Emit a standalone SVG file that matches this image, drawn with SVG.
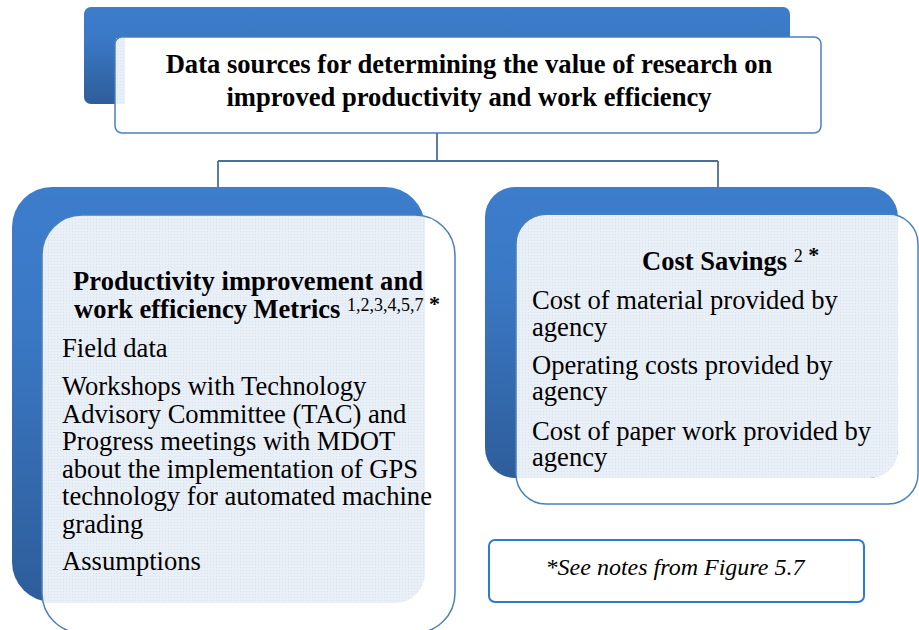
<svg xmlns="http://www.w3.org/2000/svg" width="919" height="630" viewBox="0 0 919 630">
  <defs>
    <linearGradient id="blueGrad" x1="0" y1="0" x2="0" y2="1">
      <stop offset="0" stop-color="#3c7dcc"/>
      <stop offset="0.35" stop-color="#3a78c4"/>
      <stop offset="1" stop-color="#2e5d9a"/>
    </linearGradient>
    <pattern id="dots" width="3" height="3" patternUnits="userSpaceOnUse">
      <rect width="3" height="3" fill="#e9eff7"/>
      <rect width="1" height="1" fill="#dbe3ef"/>
    </pattern>
  </defs>
  <style>
    .back { fill: url(#blueGrad); }
    .fill { fill: url(#dots); }
    .outline { fill: none; stroke: #4a7fbf; stroke-width: 1.5; }
    .conn { fill: none; stroke: #4a6f9c; stroke-width: 1.8; }
  </style>
  <rect width="919" height="630" fill="#ffffff"/>

  <g id="connectors">
    <path class="conn" d="M437,133 V161 M218,161 H718 M218,161 V187 M718,161 V187"/>
  </g>

  <g id="top-node">
    <rect class="back" x="84" y="7" width="706" height="97" rx="7"/>
    <rect x="115" y="37" width="706" height="96" rx="7" fill="#ffffff"/>
    <rect x="116" y="38" width="9" height="66" fill="url(#dots)"/>
    <rect class="outline" x="115" y="37" width="706" height="96" rx="7"/>
    <text x="469" y="73" text-anchor="middle" font-family="Liberation Serif" font-size="26.6" font-weight="bold">Data sources for determining the value of research on</text>
    <text x="469" y="106" text-anchor="middle" font-family="Liberation Serif" font-size="26.6" font-weight="bold">improved productivity and work efficiency</text>
  </g>

  <g id="productivity-node">
    <rect class="back" x="12" y="187" width="413" height="415" rx="40"/>
    <path class="fill" d="M82,215 H425 V573 A30,30 0 0 1 395,603 H42 V255 A40,40 0 0 1 82,215 Z"/>
    <rect class="outline" x="42" y="215" width="413" height="418" rx="40"/>
    <text x="73" y="290" font-family="Liberation Serif" font-size="26.5" font-weight="bold" textLength="350" lengthAdjust="spacing">Productivity improvement and</text>
    <text x="74" y="318" font-family="Liberation Serif" font-size="26.5" font-weight="bold">work efficiency Metrics <tspan font-size="18" font-weight="normal" dy="-7">1,2,3,4,5,7</tspan><tspan font-size="22"> *</tspan></text>
    <text x="62" y="357" font-family="Liberation Serif" font-size="26.6">Field data</text>
    <text x="62" y="395" font-family="Liberation Serif" font-size="26.6">Workshops with Technology</text>
    <text x="62" y="423" font-family="Liberation Serif" font-size="26.6">Advisory Committee (TAC) and</text>
    <text x="62" y="450" font-family="Liberation Serif" font-size="26.6">Progress meetings with MDOT</text>
    <text x="62" y="478" font-family="Liberation Serif" font-size="26.6">about the implementation of GPS</text>
    <text x="62" y="505" font-family="Liberation Serif" font-size="26.6">technology for automated machine</text>
    <text x="62" y="533" font-family="Liberation Serif" font-size="26.6">grading</text>
    <text x="62" y="570" font-family="Liberation Serif" font-size="26.6">Assumptions</text>
  </g>

  <g id="cost-node">
    <rect class="back" x="485" y="187" width="413" height="291" rx="30"/>
    <path class="fill" d="M546,215 H898 V450 A28,28 0 0 1 870,478 H516 V245 A30,30 0 0 1 546,215 Z"/>
    <rect class="outline" x="516" y="214" width="402" height="290" rx="30"/>
    <text x="642" y="270" font-family="Liberation Serif" font-size="26.5" font-weight="bold">Cost Savings <tspan font-size="18" font-weight="normal" dy="-8">2</tspan><tspan font-size="22"> *</tspan></text>
    <text x="532" y="309" font-family="Liberation Serif" font-size="26.6">Cost of material provided by</text>
    <text x="532" y="336" font-family="Liberation Serif" font-size="26.6">agency</text>
    <text x="532" y="374" font-family="Liberation Serif" font-size="26.6">Operating costs provided by</text>
    <text x="532" y="400" font-family="Liberation Serif" font-size="26.6">agency</text>
    <text x="532" y="440" font-family="Liberation Serif" font-size="26.6">Cost of paper work provided by</text>
    <text x="532" y="466" font-family="Liberation Serif" font-size="26.6">agency</text>
  </g>

  <g id="note-node">
    <rect x="489" y="540" width="375" height="62" rx="6" fill="#ffffff" stroke="#2b7bd0" stroke-width="2"/>
    <text x="675" y="575" text-anchor="middle" font-family="Liberation Serif" font-size="24" font-style="italic">*See notes from Figure 5.7</text>
  </g>
</svg>
